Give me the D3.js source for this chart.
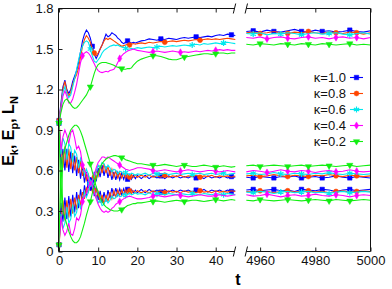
<!DOCTYPE html>
<html>
<head>
<meta charset="utf-8">
<script src="https://cdn.jsdelivr.net/npm/d3@7"></script>
<style>
body { margin: 0; background: #fff; }
svg { display: block; }
text { font-family: "Liberation Sans", Arial, sans-serif; }
</style>
</head>
<body>
<svg id="chart"></svg>
<script>
const width = 392;
const height = 289;

// time grids of the two panels
const tLeft = [0,0.5,1,1.5,2,2.5,3,3.5,4,4.5,5,5.5,6,6.5,7,7.5,8,8.5,9,9.5,10,10.5,11,11.5,12,12.5,13,13.5,14,14.5,15,15.5,16,16.5,17,17.5,18,18.5,19,19.5,20,
  21,22,23,24,25,26,27,28,29,30,31,32,33,34,35,36,37,38,39,40,41,42,43,44,45];
const tRight = [4955,4957.5,4960,4962.5,4965,4967.5,4970,4972.5,4975,4977.5,4980,4982.5,4985,4987.5,4990,4992.5,4995,4997.5,5000];

const kappas = ["κ=1.0", "κ=0.8", "κ=0.6", "κ=0.4", "κ=0.2"];

// kappa = 1.0
const ln10L = [0.97,1.10,1.22,1.27,1.20,1.17,1.20,1.26,1.30,1.34,1.40,1.48,1.56,1.61,1.64,1.62,1.58,1.52,1.46,1.43,1.46,1.50,1.53,1.57,1.61,1.59,1.60,1.62,1.61,1.60,1.58,1.57,1.55,1.54,1.55,1.56,1.55,1.545,1.55,1.545,1.55,
  1.56,1.565,1.575,1.57,1.565,1.575,1.57,1.58,1.575,1.57,1.58,1.585,1.58,1.585,1.59,1.585,1.59,1.595,1.59,1.60,1.605,1.60,1.61,1.605,1.60];
const ep10L = [0.95,0.62,0.76,0.60,0.76,0.59,0.74,0.58,0.71,0.56,0.68,0.54,0.64,0.51,0.59,0.47,0.55,0.47,0.59,0.52,0.62,0.55,0.64,0.56,0.63,0.545,0.605,0.53,0.59,0.53,0.585,0.53,0.58,0.535,0.575,0.535,0.57,0.535,0.565,0.54,0.565,
  0.54,0.565,0.54,0.56,0.545,0.56,0.54,0.56,0.545,0.56,0.545,0.555,0.545,0.56,0.545,0.555,0.54,0.56,0.545,0.555,0.545,0.56,0.545,0.555,0.55];
const ek10L = [0.05,0.36,0.22,0.40,0.24,0.41,0.26,0.42,0.29,0.44,0.32,0.46,0.36,0.49,0.41,0.53,0.45,0.53,0.41,0.48,0.38,0.45,0.36,0.44,0.37,0.455,0.395,0.47,0.41,0.47,0.415,0.465,0.42,0.465,0.425,0.46,0.43,0.46,0.435,0.455,0.435,
  0.46,0.435,0.46,0.44,0.455,0.44,0.46,0.44,0.455,0.44,0.455,0.445,0.455,0.44,0.455,0.445,0.46,0.44,0.455,0.445,0.455,0.44,0.455,0.445,0.45];
const ln10R = [1.63,1.635,1.625,1.64,1.63,1.625,1.635,1.645,1.63,1.625,1.64,1.63,1.635,1.625,1.63,1.64,1.63,1.625,1.635];
const ep10R = [0.55,0.545,0.555,0.55,0.545,0.555,0.55,0.56,0.545,0.55,0.555,0.545,0.55,0.56,0.55,0.545,0.555,0.55,0.545];
const ek10R = [0.455,0.46,0.45,0.455,0.46,0.45,0.455,0.445,0.46,0.455,0.45,0.46,0.455,0.445,0.455,0.46,0.45,0.455,0.46];

// kappa = 0.8
const ln08L = [0.97,1.08,1.20,1.26,1.19,1.15,1.18,1.24,1.28,1.31,1.36,1.44,1.52,1.57,1.60,1.58,1.55,1.50,1.47,1.45,1.47,1.50,1.53,1.56,1.58,1.57,1.58,1.57,1.56,1.55,1.54,1.53,1.52,1.525,1.53,1.535,1.53,1.535,1.54,1.535,1.54,
  1.545,1.54,1.55,1.545,1.55,1.555,1.55,1.555,1.56,1.555,1.56,1.565,1.56,1.565,1.57,1.565,1.57,1.575,1.57,1.575,1.57,1.575,1.58,1.575,1.57];
const ep08L = [0.95,0.80,0.62,0.78,0.62,0.76,0.61,0.73,0.60,0.70,0.58,0.67,0.56,0.62,0.53,0.57,0.49,0.53,0.55,0.60,0.56,0.64,0.58,0.65,0.58,0.63,0.56,0.61,0.55,0.595,0.545,0.585,0.545,0.58,0.545,0.575,0.55,0.57,0.55,0.565,0.55,
  0.565,0.55,0.565,0.55,0.56,0.55,0.565,0.55,0.56,0.555,0.565,0.55,0.56,0.555,0.565,0.55,0.56,0.555,0.565,0.55,0.56,0.555,0.56,0.55,0.56];
const ek08L = [0.05,0.21,0.38,0.23,0.38,0.25,0.39,0.28,0.40,0.31,0.42,0.34,0.44,0.39,0.47,0.44,0.51,0.48,0.45,0.40,0.44,0.36,0.42,0.35,0.42,0.37,0.44,0.39,0.45,0.405,0.455,0.415,0.455,0.42,0.455,0.425,0.45,0.43,0.45,0.435,0.45,
  0.435,0.45,0.435,0.45,0.44,0.45,0.435,0.45,0.44,0.445,0.435,0.45,0.44,0.445,0.435,0.45,0.44,0.445,0.435,0.45,0.44,0.445,0.44,0.45,0.445];
const ln08R = [1.62,1.625,1.615,1.62,1.63,1.62,1.615,1.625,1.62,1.63,1.62,1.615,1.625,1.62,1.615,1.625,1.62,1.61,1.62];
const ep08R = [0.56,0.565,0.555,0.56,0.57,0.56,0.555,0.565,0.56,0.555,0.565,0.56,0.57,0.56,0.555,0.565,0.56,0.555,0.56];
const ek08R = [0.445,0.44,0.45,0.445,0.435,0.445,0.45,0.44,0.445,0.45,0.44,0.445,0.435,0.445,0.45,0.44,0.445,0.45,0.445];

// kappa = 0.6
const ln06L = [0.96,1.06,1.18,1.22,1.17,1.14,1.16,1.22,1.28,1.35,1.42,1.48,1.52,1.55,1.56,1.55,1.50,1.45,1.41,1.40,1.42,1.44,1.47,1.49,1.50,1.51,1.52,1.525,1.53,1.525,1.53,1.52,1.515,1.51,1.505,1.50,1.50,1.505,1.50,1.505,1.51,
  1.505,1.51,1.515,1.51,1.515,1.52,1.515,1.52,1.525,1.52,1.525,1.53,1.525,1.53,1.535,1.53,1.54,1.535,1.54,1.545,1.54,1.545,1.55,1.545,1.54];
const ep06L = [0.95,0.72,0.84,0.80,0.68,0.80,0.77,0.66,0.75,0.72,0.62,0.69,0.65,0.57,0.61,0.57,0.51,0.53,0.55,0.60,0.64,0.62,0.66,0.65,0.61,0.64,0.62,0.59,0.61,0.60,0.575,0.595,0.59,0.57,0.585,0.58,0.565,0.58,0.575,0.565,0.575,
  0.57,0.58,0.565,0.58,0.575,0.57,0.58,0.57,0.575,0.58,0.57,0.575,0.58,0.57,0.575,0.58,0.57,0.575,0.58,0.57,0.575,0.58,0.57,0.575,0.58];
const ek06L = [0.05,0.28,0.17,0.21,0.33,0.21,0.24,0.35,0.26,0.29,0.39,0.32,0.36,0.44,0.40,0.44,0.50,0.48,0.45,0.40,0.36,0.38,0.34,0.35,0.39,0.36,0.38,0.41,0.39,0.40,0.425,0.405,0.41,0.43,0.415,0.42,0.435,0.42,0.425,0.435,0.425,
  0.43,0.42,0.435,0.42,0.425,0.43,0.42,0.43,0.425,0.42,0.43,0.425,0.42,0.43,0.425,0.42,0.43,0.425,0.42,0.43,0.425,0.42,0.43,0.425,0.42];
const ln06R = [1.615,1.61,1.62,1.605,1.615,1.61,1.62,1.615,1.605,1.615,1.62,1.61,1.615,1.62,1.61,1.605,1.615,1.62,1.61];
const ep06R = [0.575,0.58,0.57,0.575,0.585,0.575,0.57,0.58,0.575,0.57,0.58,0.575,0.585,0.575,0.57,0.58,0.575,0.57,0.575];
const ek06R = [0.44,0.435,0.445,0.44,0.43,0.44,0.445,0.435,0.44,0.445,0.435,0.44,0.43,0.44,0.445,0.435,0.44,0.445,0.44];

// kappa = 0.4
const ln04L = [0.96,1.05,1.15,1.19,1.15,1.10,1.10,1.13,1.18,1.24,1.32,1.40,1.45,1.47,1.48,1.47,1.45,1.42,1.39,1.36,1.34,1.33,1.325,1.33,1.335,1.33,1.34,1.345,1.35,1.37,1.40,1.43,1.45,1.465,1.475,1.485,1.49,1.495,1.50,1.495,1.49,
  1.485,1.48,1.475,1.48,1.485,1.48,1.475,1.48,1.485,1.48,1.475,1.48,1.475,1.48,1.485,1.48,1.485,1.49,1.485,1.49,1.495,1.49,1.495,1.49,1.49];
const ep04L = [0.95,0.75,0.85,0.90,0.86,0.80,0.88,0.90,0.84,0.76,0.78,0.74,0.64,0.60,0.58,0.53,0.49,0.52,0.57,0.62,0.66,0.68,0.70,0.70,0.69,0.70,0.69,0.68,0.67,0.66,0.65,0.64,0.63,0.62,0.61,0.605,0.60,0.605,0.61,0.615,0.62,
  0.62,0.615,0.61,0.60,0.595,0.60,0.605,0.60,0.595,0.59,0.595,0.60,0.605,0.60,0.595,0.59,0.595,0.60,0.60,0.595,0.59,0.595,0.60,0.595,0.59];
const ek04L = [0.05,0.26,0.16,0.12,0.15,0.21,0.13,0.12,0.17,0.25,0.23,0.27,0.37,0.41,0.43,0.48,0.52,0.49,0.44,0.39,0.35,0.32,0.30,0.29,0.30,0.29,0.30,0.32,0.33,0.35,0.36,0.37,0.38,0.39,0.40,0.405,0.41,0.405,0.40,0.395,0.39,
  0.39,0.395,0.40,0.41,0.415,0.41,0.405,0.41,0.415,0.42,0.415,0.41,0.405,0.41,0.415,0.42,0.415,0.41,0.41,0.415,0.42,0.415,0.41,0.415,0.42];
const ln04R = [1.585,1.58,1.59,1.575,1.585,1.59,1.58,1.575,1.585,1.59,1.58,1.585,1.575,1.585,1.59,1.58,1.585,1.575,1.585];
const ep04R = [0.59,0.6,0.595,0.585,0.595,0.605,0.595,0.59,0.6,0.595,0.585,0.595,0.6,0.59,0.595,0.605,0.595,0.59,0.595];
const ek04R = [0.42,0.41,0.415,0.425,0.415,0.405,0.415,0.42,0.41,0.415,0.425,0.415,0.41,0.42,0.415,0.405,0.415,0.42,0.415];

// kappa = 0.2
const ln02L = [0.95,1.03,1.09,1.12,1.13,1.11,1.09,1.07,1.06,1.065,1.08,1.10,1.12,1.14,1.16,1.19,1.22,1.27,1.32,1.36,1.385,1.395,1.40,1.40,1.40,1.395,1.39,1.385,1.38,1.37,1.365,1.36,1.355,1.35,1.35,1.355,1.355,1.36,1.38,1.395,1.41,
  1.425,1.435,1.445,1.45,1.45,1.445,1.435,1.425,1.42,1.42,1.43,1.44,1.445,1.45,1.455,1.46,1.465,1.465,1.46,1.465,1.47,1.47,1.465,1.47,1.47];
const ep02L = [0.95,0.32,0.70,0.76,0.81,0.86,0.90,0.92,0.935,0.935,0.92,0.89,0.85,0.80,0.75,0.70,0.65,0.59,0.53,0.48,0.44,0.40,0.37,0.345,0.33,0.32,0.31,0.305,0.30,0.30,0.30,0.305,0.31,0.32,0.33,0.34,0.345,0.35,0.355,0.355,0.36,
  0.36,0.365,0.37,0.37,0.375,0.37,0.365,0.37,0.375,0.38,0.375,0.37,0.375,0.38,0.38,0.375,0.37,0.375,0.38,0.385,0.38,0.375,0.38,0.385,0.38];
const ek02L = [0.05,0.70,0.30,0.25,0.20,0.15,0.11,0.08,0.065,0.065,0.08,0.11,0.16,0.21,0.27,0.32,0.37,0.43,0.49,0.54,0.58,0.62,0.65,0.67,0.685,0.695,0.70,0.705,0.71,0.71,0.705,0.70,0.695,0.69,0.68,0.675,0.67,0.665,0.66,0.655,0.65,
  0.65,0.645,0.64,0.64,0.635,0.64,0.645,0.64,0.635,0.63,0.635,0.64,0.635,0.63,0.63,0.635,0.64,0.635,0.63,0.625,0.63,0.635,0.63,0.625,0.63];
const ln02R = [1.535,1.53,1.54,1.535,1.53,1.54,1.535,1.53,1.54,1.535,1.53,1.54,1.535,1.53,1.535,1.54,1.53,1.535,1.53];
const ep02R = [0.38,0.375,0.385,0.38,0.375,0.38,0.385,0.38,0.375,0.38,0.385,0.38,0.375,0.385,0.38,0.375,0.38,0.385,0.38];
const ek02R = [0.635,0.64,0.63,0.635,0.64,0.635,0.63,0.635,0.64,0.63,0.635,0.64,0.635,0.63,0.635,0.64,0.63,0.635,0.64];

// times where the point symbols sit
const markLeft = [[0,8.5,17.5,26,35,44],[0,9,18,27,36],[0,8,17,25,34,42],[0,6,15.5,24,31.5,40],[0,8,16,24,32,40]];
const markRight = [[4957.5,4965,4975,4982.5,4992.5],[4960,4970,4977.5,4987.5,4995],[4957.5,4967.5,4975,4985,4992.5],[4962.5,4970,4977.5,4987.5,4995],[4960,4970,4977.5,4985,4992.5]];

const leftCurves = [[ln10L,ep10L,ek10L],[ln08L,ep08L,ek08L],[ln06L,ep06L,ek06L],[ln04L,ep04L,ek04L],[ln02L,ep02L,ek02L]];
const rightCurves = [[ln10R,ep10R,ek10R],[ln08R,ep08R,ek08R],[ln06R,ep06R,ek06R],[ln04R,ep04R,ek04R],[ln02R,ep02R,ek02R]];

const colors = ["#0000ff", "#ff4500", "#00e8ee", "#ff00ff", "#11ee11"];
const styles = [
  {type: d3.symbolSquare, size: 20, fill: true, rot: 0},
  {type: d3.symbolCircle, size: 19, fill: true, rot: 0},
  {type: d3.symbolAsterisk, size: 26, fill: false, rot: 0},
  {type: d3.symbolDiamond, size: 15, fill: true, rot: 0},
  {type: d3.symbolTriangle, size: 17, fill: true, rot: 180}
];

const svg = d3.select("#chart")
  .attr("width", width)
  .attr("height", height);

const xL = d3.scaleLinear().domain([0, 45]).range([59, 235.3]);
const xR = d3.scaleLinear().domain([4955, 5000]).range([246.3, 370.5]);
const y = d3.scaleLinear().domain([0, 1.8]).range([251.5, 8.5]);

function drawMark(g, i, cx, cy) {
  const s = styles[i];
  g.append("path")
    .attr("d", d3.symbol(s.type, s.size)())
    .attr("transform", "translate(" + cx + "," + cy + ") rotate(" + s.rot + ")")
    .attr("fill", s.fill ? colors[i] : "none")
    .attr("stroke", colors[i])
    .attr("stroke-width", s.fill ? 0.5 : 1.2);
}

const plot = svg.append("g");
const panels = [
  {x: xL, t: tLeft, curves: leftCurves, marks: markLeft},
  {x: xR, t: tRight, curves: rightCurves, marks: markRight}
];

kappas.forEach((k, i) => {
  const g = plot.append("g");
  panels.forEach((p) => {
    const line = d3.line()
      .x((d, j) => p.x(p.t[j]))
      .y((d) => y(d))
      .defined((d, j) => d != null && p.t[j] != null);
    p.curves[i].forEach((c) => {
      g.append("path")
        .attr("d", line(c))
        .attr("fill", "none")
        .attr("stroke", colors[i])
        .attr("stroke-width", 1.1);
    });
    p.marks[i].forEach((mt) => {
      const j = d3.minIndex(p.t, (t) => Math.abs(t - mt));
      p.curves[i].forEach((c) => drawMark(g, i, p.x(p.t[j]), y(c[j])));
    });
  });
});

// axes (ticks point inward)
const fmtY = (d) => d === 0 ? "0" : d3.format(".1f")(d);
const axes = svg.append("g");
axes.append("g").attr("transform", "translate(58.5,0)")
  .call(d3.axisLeft(y).tickValues([0, 0.3, 0.6, 0.9, 1.2, 1.5, 1.8]).tickSize(-4).tickPadding(5).tickFormat(fmtY));
axes.append("g").attr("transform", "translate(0,251.5)")
  .call(d3.axisBottom(xL).tickValues([0, 10, 20, 30, 40]).tickSize(-4).tickPadding(4).tickFormat(d3.format("d")));
axes.append("g").attr("transform", "translate(0,251.5)")
  .call(d3.axisBottom(xR).tickValues([4960, 4980, 5000]).tickSize(-4).tickPadding(4).tickFormat(d3.format("d")));
axes.append("g").attr("transform", "translate(0,8.5)")
  .call(d3.axisTop(xL).tickValues([0, 10, 20, 30, 40]).tickSize(-4).tickFormat(""));
axes.append("g").attr("transform", "translate(0,8.5)")
  .call(d3.axisTop(xR).tickValues([4960, 4980, 5000]).tickSize(-4).tickFormat(""));
axes.selectAll(".domain").remove();
axes.selectAll("text")
  .attr("font-size", 13)
  .attr("font-family", "'Liberation Sans', Arial, sans-serif")
  .attr("fill", "#111");
axes.selectAll("line").attr("stroke", "#222");

// frame with the axis break
const frame = svg.append("g").attr("stroke", "#111").attr("stroke-width", 1).attr("fill", "none");
const xBreakL = 234.5, xBreakR = 246.3;
[8.5, 251.5].forEach((yy) => {
  frame.append("line").attr("x1", 58.5).attr("x2", xBreakL).attr("y1", yy).attr("y2", yy);
  frame.append("line").attr("x1", xBreakR).attr("x2", 370.5).attr("y1", yy).attr("y2", yy);
  [xBreakL, xBreakR].forEach((xx) => {
    frame.append("line").attr("x1", xx - 1.2).attr("x2", xx + 1.2).attr("y1", yy + 5).attr("y2", yy - 5);
  });
});
frame.append("line").attr("x1", 58.5).attr("x2", 58.5).attr("y1", 8.5).attr("y2", 251.5);
frame.append("line").attr("x1", 370.5).attr("x2", 370.5).attr("y1", 8.5).attr("y2", 251.5);

// axis titles
svg.append("text")
  .attr("x", 238).attr("y", 285)
  .attr("text-anchor", "middle")
  .attr("font-weight", "bold")
  .attr("font-size", 16)
  .text("t");

const yl = svg.append("text")
  .attr("transform", "translate(14,131) rotate(-90)")
  .attr("text-anchor", "middle")
  .attr("font-weight", "bold")
  .attr("font-size", 16);
yl.append("tspan").text("E");
yl.append("tspan").attr("dy", 4).attr("font-size", 11).text("k");
yl.append("tspan").attr("dy", -4).text(", E");
yl.append("tspan").attr("dy", 4).attr("font-size", 11).text("p");
yl.append("tspan").attr("dy", -4).text(", L");
yl.append("tspan").attr("dy", 4).attr("font-size", 11).text("N");

// legend
const legend = svg.append("g");
kappas.forEach((k, i) => {
  const ly = 77.5 + i * 16;
  legend.append("text")
    .attr("x", 346).attr("y", ly).attr("dy", "0.35em")
    .attr("text-anchor", "end")
    .attr("font-size", 13)
    .attr("fill", "#111")
    .text(k);
  legend.append("line")
    .attr("x1", 350).attr("x2", 363).attr("y1", ly).attr("y2", ly)
    .attr("stroke", colors[i]).attr("stroke-width", 1.1);
  drawMark(legend, i, 356.5, ly);
});
</script>
</body>
</html>
